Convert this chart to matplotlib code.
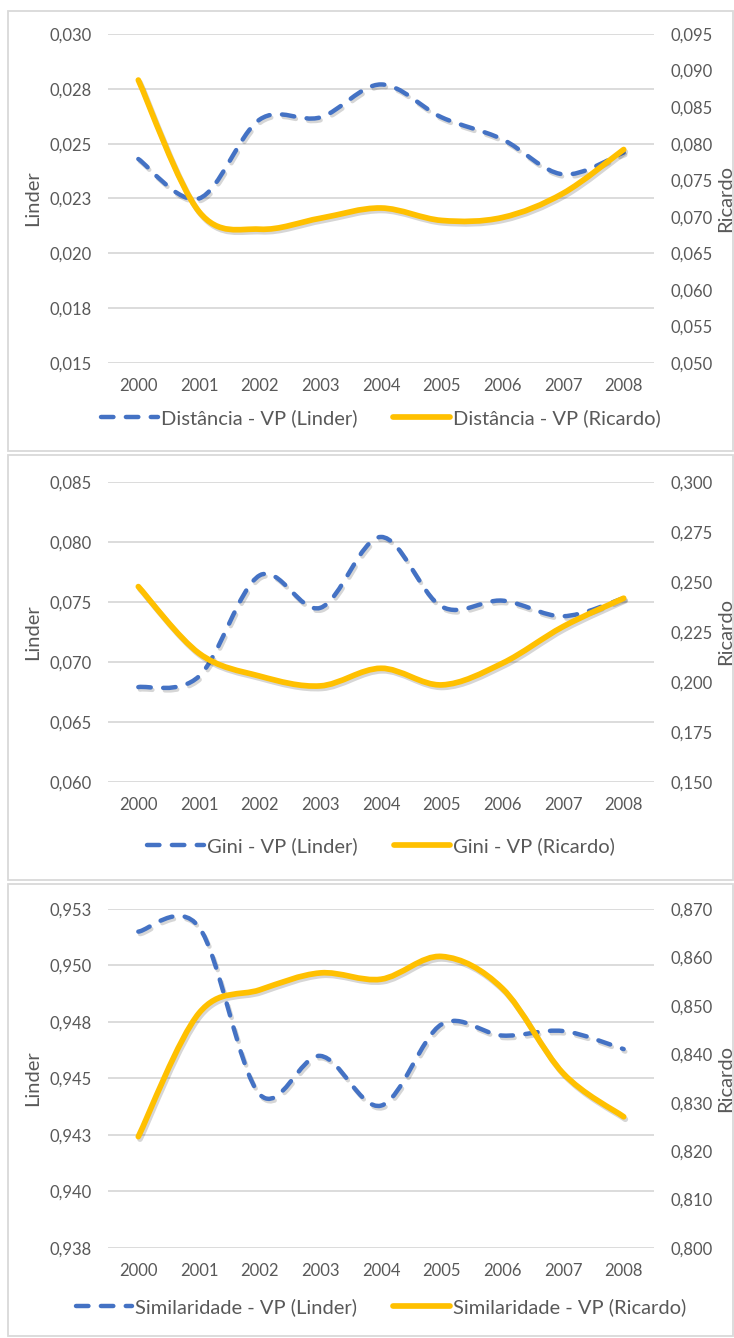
import matplotlib
matplotlib.use("Agg")
import matplotlib.pyplot as plt
import matplotlib.patheffects as pe
from matplotlib.path import Path
from matplotlib.patches import PathPatch, Rectangle
from matplotlib.lines import Line2D
from matplotlib.ticker import MultipleLocator, FuncFormatter

plt.rcParams['font.family'] = ['Lato', 'DejaVu Sans']

# data
years = ['2000', '2001', '2002', '2003', '2004', '2005', '2006', '2007', '2008']

dist_linder = [0.0243, 0.0225, 0.0261, 0.0262, 0.0277, 0.0262, 0.0252, 0.0236, 0.0246]
dist_ricardo = [0.0887, 0.0707, 0.0683, 0.0698, 0.0712, 0.0695, 0.0699, 0.0732, 0.0792]

gini_linder = [0.0679, 0.0688, 0.0772, 0.0745, 0.0804, 0.0746, 0.0751, 0.0738, 0.0753]
gini_ricardo = [0.2476, 0.2143, 0.2029, 0.1980, 0.2068, 0.1985, 0.2093, 0.2276, 0.2418]

sim_linder = [0.9515, 0.9517, 0.9443, 0.9460, 0.9438, 0.9474, 0.9469, 0.9471, 0.9463]
sim_ricardo = [0.8230, 0.8485, 0.8533, 0.8568, 0.8555, 0.8602, 0.8536, 0.8361, 0.8271]

BLUE = '#4472C4'
GOLD = '#FFC000'
TXT = '#595959'
GRID = '#D9D9D9'

W, H = 734, 1338
fig = plt.figure(figsize=(W / 100, H / 100), dpi=100)


def smooth(xs, ys):
    # excel-like smoothed line: cubic bezier through the points
    n = len(xs)
    pts = list(zip(xs, ys))
    verts = [pts[0]]
    codes = [Path.MOVETO]
    for i in range(n - 1):
        p0 = pts[max(i - 1, 0)]
        p1 = pts[i]
        p2 = pts[i + 1]
        p3 = pts[min(i + 2, n - 1)]
        c1 = (p1[0] + (p2[0] - p0[0]) / 6, p1[1] + (p2[1] - p0[1]) / 6)
        c2 = (p2[0] - (p3[0] - p1[0]) / 6, p2[1] - (p3[1] - p1[1]) / 6)
        verts += [c1, c2, p2]
        codes += [Path.CURVE4] * 3
    return Path(verts, codes)


def fmt(v, pos):
    return f"{round(v + 1e-9, 3):.3f}".replace('.', ',')


shadow = [pe.SimpleLineShadow(offset=(1.2, -1.8), shadow_color='k', alpha=0.16), pe.Normal()]
dash = (0, (2.8, 2.8))
LW_B = 3.2
LW_G = 4.1

panels = [
    dict(top=34, bot=363, box=(11, 451), leg=418,
         linder=dist_linder, ricardo=dist_ricardo,
         names=('Distância - VP (Linder)', 'Distância - VP (Ricardo)'),
         ylim=(0.015, 0.030), ystep=0.0025, y2lim=(0.050, 0.095), y2step=0.005),
    dict(top=481.7, bot=782, box=(455, 880), leg=846,
         linder=gini_linder, ricardo=gini_ricardo,
         names=('Gini - VP (Linder)', 'Gini - VP (Ricardo)'),
         ylim=(0.060, 0.085), ystep=0.005, y2lim=(0.150, 0.300), y2step=0.025),
    dict(top=909, bot=1248, box=(884, 1336), leg=1307,
         linder=sim_linder, ricardo=sim_ricardo,
         names=('Similaridade - VP (Linder)', 'Similaridade - VP (Ricardo)'),
         ylim=(0.9375, 0.9525), ystep=0.0025, y2lim=(0.800, 0.870), y2step=0.01),
]

xs = list(range(len(years)))

for p in panels:
    # panel frame
    b0, b1 = p['box']
    fig.add_artist(Rectangle((8 / W, 1 - b1 / H), (733 - 8) / W, (b1 - b0) / H,
                             transform=fig.transFigure, fill=False,
                             edgecolor=GRID, lw=1.3))

    ax = fig.add_axes([108 / W, 1 - p['bot'] / H, 546 / W, (p['bot'] - p['top']) / H])
    ax2 = ax.twinx()

    ax.set_xlim(-0.5, len(years) - 0.5)
    ax.set_ylim(*p['ylim'])
    ax2.set_ylim(*p['y2lim'])
    ax.yaxis.set_major_locator(MultipleLocator(p['ystep']))
    ax2.yaxis.set_major_locator(MultipleLocator(p['y2step']))
    ax.yaxis.set_major_formatter(FuncFormatter(fmt))
    ax2.yaxis.set_major_formatter(FuncFormatter(fmt))
    ax.set_xticks(xs)
    ax.set_xticklabels(years)

    for a in (ax, ax2):
        for s in a.spines.values():
            s.set_visible(False)
        a.tick_params(length=0, labelsize=12, colors=TXT)
    ax.tick_params(axis='y', pad=12)
    ax2.tick_params(axis='y', pad=12)
    ax.tick_params(axis='x', pad=11)
    ax.grid(axis='y', color=GRID, lw=1.3)
    ax.set_axisbelow(True)

    ax.set_ylabel('Linder', fontsize=14.5, color=TXT, labelpad=6)
    ax2.set_ylabel('Ricardo', fontsize=14.5, color=TXT, labelpad=3)

    blue = PathPatch(smooth(xs, p['linder']), fill=False, edgecolor=BLUE, lw=LW_B,
                     linestyle=dash, capstyle='round', joinstyle='round',
                     transform=ax.transData, path_effects=shadow)
    ax.add_patch(blue)
    gold = PathPatch(smooth(xs, p['ricardo']), fill=False, edgecolor=GOLD, lw=LW_G,
                     capstyle='round', joinstyle='round',
                     transform=ax2.transData, path_effects=shadow)
    ax2.add_patch(gold)

    handles = [Line2D([], [], color=BLUE, lw=LW_B, linestyle=dash, solid_capstyle='round',
                      dash_capstyle='round'),
               Line2D([], [], color=GOLD, lw=LW_G, solid_capstyle='round')]
    fig.legend(handles, p['names'], loc='center', ncol=2, frameon=False,
               bbox_to_anchor=(381 / W, 1 - p['leg'] / H), fontsize=14.5,
               labelcolor=TXT, handlelength=2.8, handletextpad=0.15, columnspacing=1.8)

fig.savefig('out.png', dpi=100)
